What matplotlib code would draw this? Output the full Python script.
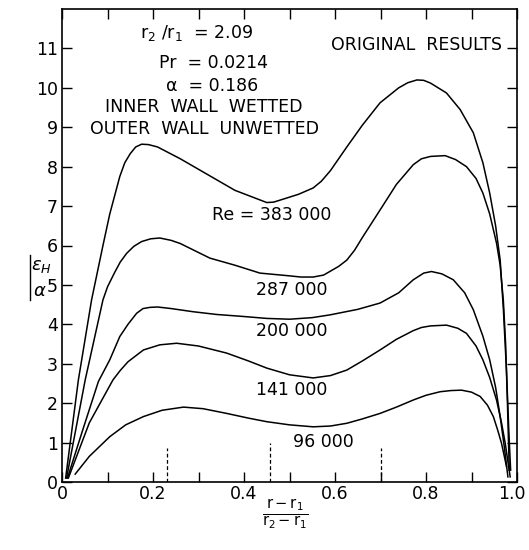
import matplotlib
matplotlib.use("Agg")
import matplotlib.pyplot as plt
from matplotlib.lines import Line2D
from matplotlib.transforms import ScaledTranslation

# ---- data ----
x_383 = [0.008, 0.036, 0.065, 0.09, 0.105, 0.127, 0.138, 0.15, 0.162, 0.175, 0.19, 0.21, 0.26,
         0.32, 0.38, 0.45, 0.465, 0.479, 0.52, 0.552, 0.57, 0.59, 0.626, 0.66, 0.699, 0.74,
         0.76, 0.78, 0.795, 0.81, 0.845, 0.875, 0.904, 0.925, 0.94, 0.953, 0.963, 0.97, 0.977,
         0.982, 0.986]
y_383 = [0.1, 2.59, 4.62, 6.0, 6.8, 7.75, 8.1, 8.33, 8.5, 8.57, 8.56, 8.5, 8.2,
         7.8, 7.4, 7.09, 7.1, 7.15, 7.3, 7.46, 7.63, 7.9, 8.5, 9.05, 9.62, 10.0,
         10.13, 10.2, 10.19, 10.12, 9.87, 9.45, 8.86, 8.1, 7.33, 6.5, 5.63, 4.4, 2.8,
         1.3, 0.3]

x_287 = [0.01, 0.051, 0.09, 0.1, 0.115, 0.128, 0.142, 0.158, 0.175, 0.195, 0.215, 0.24, 0.26,
         0.325, 0.38, 0.435, 0.50, 0.525, 0.552, 0.575, 0.59, 0.608, 0.626, 0.643, 0.66, 0.699,
         0.735, 0.772, 0.79, 0.81, 0.842, 0.865, 0.889, 0.91, 0.925, 0.94, 0.955, 0.963, 0.97,
         0.975, 0.979, 0.983]
y_287 = [0.1, 2.59, 4.62, 4.95, 5.3, 5.58, 5.8, 5.98, 6.1, 6.17, 6.19, 6.13, 6.05,
         5.68, 5.5, 5.3, 5.23, 5.2, 5.2, 5.25, 5.35, 5.47, 5.63, 5.88, 6.2, 6.9,
         7.55, 8.05, 8.2, 8.26, 8.28, 8.18, 8.0, 7.7, 7.33, 6.8, 6.06, 5.5, 4.6,
         3.5, 2.0, 0.3]

x_200 = [0.012, 0.045, 0.08, 0.105, 0.127, 0.145, 0.164, 0.178, 0.193, 0.21, 0.24, 0.288, 0.34,
         0.398, 0.45, 0.50, 0.55, 0.589, 0.65, 0.699, 0.74, 0.772, 0.795, 0.812, 0.835, 0.86,
         0.885, 0.904, 0.925, 0.94, 0.953, 0.963, 0.972, 0.98]
y_200 = [0.1, 1.3, 2.55, 3.1, 3.69, 4.0, 4.28, 4.4, 4.43, 4.44, 4.4, 4.32, 4.25,
         4.2, 4.15, 4.13, 4.17, 4.24, 4.38, 4.54, 4.8, 5.13, 5.3, 5.34, 5.28, 5.13,
         4.8, 4.37, 3.7, 3.1, 2.4, 1.66, 0.9, 0.13]

x_141 = [0.014, 0.06, 0.112, 0.128, 0.145, 0.179, 0.215, 0.252, 0.30, 0.362, 0.41, 0.45, 0.50,
         0.552, 0.59, 0.626, 0.66, 0.699, 0.735, 0.772, 0.79, 0.81, 0.845, 0.87, 0.889, 0.91,
         0.925, 0.94, 0.955, 0.966, 0.974, 0.985]
y_141 = [0.1, 1.5, 2.59, 2.83, 3.05, 3.35, 3.48, 3.52, 3.45, 3.27, 3.07, 2.89, 2.72,
         2.64, 2.7, 2.84, 3.07, 3.35, 3.62, 3.84, 3.92, 3.96, 3.98, 3.9, 3.77, 3.45,
         3.1, 2.65, 2.08, 1.5, 0.99, 0.13]

x_96 = [0.029, 0.06, 0.105, 0.14, 0.179, 0.22, 0.267, 0.31, 0.362, 0.41, 0.45, 0.50, 0.552,
        0.59, 0.626, 0.66, 0.699, 0.735, 0.772, 0.8, 0.831, 0.855, 0.878, 0.9, 0.919, 0.935,
        0.948, 0.958, 0.966, 0.977]
y_96 = [0.2, 0.65, 1.15, 1.45, 1.66, 1.82, 1.9, 1.86, 1.74, 1.62, 1.53, 1.45, 1.40,
        1.42, 1.49, 1.6, 1.74, 1.9, 2.08, 2.2, 2.29, 2.32, 2.33, 2.28, 2.17, 1.95,
        1.66, 1.3, 0.98, 0.39]

curve_labels = ["Re = 383 000", "287 000", "200 000", "141 000", "96 000"]
label_x = [0.461, 0.504, 0.506, 0.504, 0.574]
label_y = [6.78, 4.87, 3.82, 2.34, 1.02]

dash_x = [0.23, 0.457, 0.70]
dash_h = [0.85, 1.0, 0.85]

x_major = [0, 0.2, 0.4, 0.6, 0.8, 1.0]
x_major_labels = ["0", "0.2", "0.4", "0.6", "0.8", "1.0"]
x_minor = [0.1, 0.3, 0.5, 0.7, 0.9]
y_ticks = list(range(0, 12))
y_tick_labels = [str(v) for v in y_ticks]

# ---- figure ----
W, H = 529, 550
fig = plt.figure(figsize=(W / 100, H / 100), dpi=100)
ax = fig.add_axes([62 / W, 1 - 482 / H, (517 - 62) / W, (482 - 9) / H])

lw = 1.1
for xs, ys in [(x_383, y_383), (x_287, y_287), (x_200, y_200), (x_141, y_141), (x_96, y_96)]:
    ax.plot(xs, ys, color="black", lw=lw, solid_joinstyle="round")

for xd, hd in zip(dash_x, dash_h):
    ax.plot([xd, xd], [0, hd], color="black", lw=0.9, ls=(0, (3, 2)))

fs = 12.5
for t, lx, ly in zip(curve_labels, label_x, label_y):
    ax.text(lx, ly, t, ha="center", va="center", fontsize=fs)

# parameter block
ax.text(0.171, 11.4, r"r$_2$ /r$_1$  = 2.09", ha="left", va="center", fontsize=fs)
ax.text(0.213, 10.63, "Pr  = 0.0214", ha="left", va="center", fontsize=fs)
ax.text(0.228, 10.05, "α  = 0.186", ha="left", va="center", fontsize=fs)
ax.text(0.312, 9.52, "INNER  WALL  WETTED", ha="center", va="center", fontsize=fs)
ax.text(0.313, 8.96, "OUTER  WALL  UNWETTED", ha="center", va="center", fontsize=fs)
ax.text(0.78, 11.09, "ORIGINAL  RESULTS", ha="center", va="center", fontsize=fs)

ax.set_xlim(0, 1.0)
ax.set_ylim(0, 12)
ax.set_xticks(x_major)
ax.set_xticklabels(x_major_labels)
ax.set_xticks(x_minor, minor=True)
ax.set_yticks(y_ticks)
ax.set_yticklabels(y_tick_labels)
ax.tick_params(axis="both", which="both", direction="in", top=True, right=True,
               length=7, width=1.0, labelsize=12.5)
ax.tick_params(axis="x", which="major", pad=2)
ax.tick_params(axis="y", which="major", pad=3)
for s in ax.spines.values():
    s.set_linewidth(1.2)

# keep the last x tick label inside the figure
last = ax.get_xticklabels()[-1]
last.set_transform(last.get_transform() + ScaledTranslation(-4 / 72, 0, fig.dpi_scale_trans))

# axis labels
fig.text(285 / W, 1 - 514 / H, r"$\frac{\mathrm{r - r_1}}{\mathrm{r_2 - r_1}}$",
         ha="center", va="center", fontsize=15)
fig.text(41 / W, 1 - 266 / H, r"$\epsilon_H$", ha="center", va="center", fontsize=13)
fig.text(40 / W, 1 - 291 / H, r"$\alpha$", ha="center", va="center", fontsize=13)
fig.add_artist(Line2D([30 / W, 30 / W], [1 - 255 / H, 1 - 300 / H], color="black", lw=1.0,
                      transform=fig.transFigure))

fig.savefig("out.png", dpi=100)
